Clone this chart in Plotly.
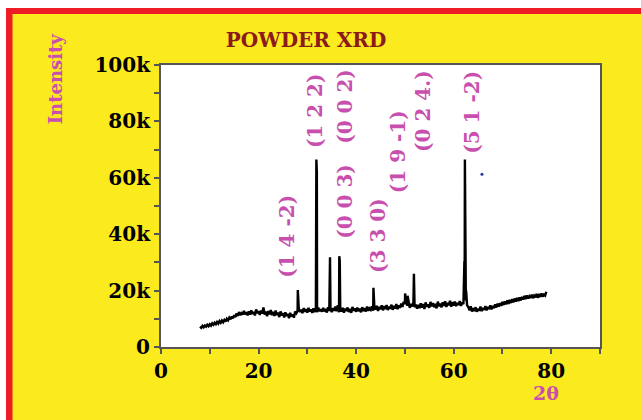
import plotly.graph_objects as go

# ---- data ----
# background pattern, sampled every 0.25 degree from 2θ = 8 to 79 (intensity in k counts)
base_start = 8.0
base_step = 0.25
base_k = [
    7.2, 6.8, 7.5, 7.0, 7.6, 7.2, 7.9, 7.4, 8.1, 7.6, 8.4, 7.9, 8.6, 8.1, 8.9, 8.3, 9.2, 8.6, 9.4, 8.8,
    9.6, 9.0, 10.0, 9.5, 10.4, 9.8, 10.8, 10.2, 11.3, 10.6, 11.9, 11.0, 12.4, 11.3, 12.0, 11.5, 12.8, 11.6, 12.3, 11.2,
    12.6, 11.5, 13.0, 11.8, 12.4, 11.2, 13.3, 12.0, 12.7, 11.4, 12.9, 11.9, 14.0, 11.5, 12.6, 10.9, 12.8, 11.6, 13.1, 11.3,
    12.5, 11.0, 12.9, 11.4, 12.2, 10.6, 12.6, 11.2, 12.0, 10.5, 12.3, 11.0, 11.8, 10.2, 12.1, 10.8, 11.6, 10.4, 12.6, 12.0,
    12.8, 13.6, 12.4, 13.2, 12.0, 13.8, 12.5, 13.4, 12.2, 13.9, 12.6, 13.3, 12.1, 13.7, 12.4, 13.5, 12.3, 14.0, 12.7, 13.4,
    12.5, 13.9, 12.6, 13.5, 12.2, 14.1, 12.8, 13.6, 12.4, 13.8, 12.9, 14.3, 12.7, 14.8, 12.3, 13.7, 12.6, 13.9, 12.2, 13.6,
    12.8, 14.0, 12.4, 13.5, 12.1, 14.2, 12.9, 13.7, 12.5, 14.0, 12.7, 13.6, 12.3, 14.1, 12.8, 13.8, 12.6, 14.3, 12.9, 13.7,
    13.2, 14.4, 12.9, 14.0, 13.3, 14.6, 12.8, 14.2, 13.4, 14.8, 13.0, 14.5, 13.5, 14.9, 13.1, 14.3, 13.6, 15.0, 13.2, 14.6,
    13.7, 15.2, 13.4, 14.8, 13.9, 15.4, 14.2, 16.0, 15.2, 16.5, 14.6, 15.8, 13.9, 15.3, 14.4, 15.9, 14.1, 15.0, 13.6, 14.9,
    13.8, 15.5, 14.0, 15.2, 13.5, 15.8, 14.3, 15.1, 13.9, 16.0, 14.4, 15.6, 14.1, 15.3, 13.7, 16.1, 14.5, 15.4, 14.0, 15.9,
    14.6, 16.2, 14.2, 15.7, 14.8, 16.4, 14.3, 15.9, 14.7, 16.1, 14.5, 15.6, 14.9, 16.3, 14.6, 15.8, 15.2, 17.0, 16.5, 14.8,
    14.2, 13.0, 14.4, 12.6, 13.8, 12.8, 14.1, 12.5, 13.6, 12.9, 14.3, 12.7, 13.9, 13.2, 14.5, 13.0, 14.2, 13.4, 14.8, 13.3,
    14.6, 13.8, 15.1, 14.0, 15.4, 14.3, 15.6, 14.6, 16.0, 14.9, 16.2, 15.1, 16.5, 15.3, 16.7, 15.6, 17.0, 15.8, 17.2, 16.1,
    17.4, 16.3, 17.6, 16.5, 17.8, 16.8, 18.1, 17.0, 18.3, 17.2, 18.0, 17.4, 18.6, 17.3, 18.2, 17.6, 18.8, 17.5, 18.4, 17.8,
    19.0, 17.9, 18.6, 18.2, 19.6,
]
# sharp reflections (2θ, intensity in k counts)
peak_x = [28.05, 31.85, 31.95, 34.65, 36.55, 36.65, 43.55, 50.05, 50.15, 50.55,
          51.85, 51.95, 62.2, 62.3, 62.35, 62.45, 62.55]
peak_k = [20.2, 66.5, 62.0, 31.8, 32.2, 30.5, 21.0, 19.0, 17.0, 18.2,
          26.0, 17.5, 30.5, 66.5, 31.0, 27.5, 20.0]

peak_labels = ["(1 4 -2)", "(1 2 2)", "(0 0 2)", "(0 0 3)", "(3 3 0)",
               "(1 9 -1)", "(0 2 4.)", "(5 1 -2)"]
label_x = [25.8, 31.6, 37.7, 37.7, 44.5, 48.6, 53.7, 63.7]
label_y = [39400, 83700, 85500, 51800, 39400, 69100, 83700, 83300]

dot_x = [65.8]
dot_y = [61300]

x_ticks = [0, 10, 20, 30, 40, 50, 60, 70, 80, 90]
x_ticktext = ["0", "", "20", "", "40", "", "60", "", "80", ""]
y_ticks = [0, 10000, 20000, 30000, 40000, 50000, 60000, 70000, 80000, 90000, 100000]
y_ticktext = ["0", "", "20k", "", "40k", "", "60k", "", "80k", "", "100k"]

# ---- build the pattern ----
pts = [(base_start + base_step * i, v) for i, v in enumerate(base_k)]
pts += list(zip(peak_x, peak_k))
pts.sort()
two_theta = [p[0] for p in pts]
intensity = [p[1] * 1000 for p in pts]

YELLOW = "#FBEA1E"
RED = "#EE1D25"
MAGENTA = "#C94FAE"
DARKRED = "#8B1A1A"
SERIF = "DejaVu Serif"

fig = go.Figure()
fig.add_trace(go.Scatter(x=two_theta, y=intensity, mode="lines",
                         line=dict(color="black", width=2.4), showlegend=False))
fig.add_trace(go.Scatter(x=dot_x, y=dot_y, mode="markers",
                         marker=dict(color="#2233AA", size=3), showlegend=False))

for t, lx, ly in zip(peak_labels, label_x, label_y):
    fig.add_annotation(x=lx, y=ly, xref="x", yref="y", text="<b>" + t + "</b>",
                       textangle=-90, showarrow=False,
                       xanchor="center", yanchor="middle",
                       font=dict(family=SERIF, size=20, color=MAGENTA))

fig.add_annotation(x=-0.241, y=0.95, xref="paper", yref="paper",
                   text="<b>Intensity</b>", textangle=-90, showarrow=False,
                   xanchor="center", yanchor="middle",
                   font=dict(family=SERIF, size=18, color=MAGENTA))
fig.add_annotation(x=78.9, y=-0.163, xref="x", yref="paper",
                   text="<b>2θ</b>", showarrow=False,
                   xanchor="center", yanchor="middle",
                   font=dict(family=SERIF, size=19, color=MAGENTA))

# frame: white outside, red border on top/left
def px_x(p):
    return (p - 161) / 439.0

def px_y(p):
    return (347 - p) / 282.0

shapes = [
    dict(type="rect", xref="paper", yref="paper", x0=px_x(-20), x1=px_x(700),
         y0=px_y(8), y1=px_y(-20), fillcolor="white", line=dict(width=0)),
    dict(type="rect", xref="paper", yref="paper", x0=px_x(-20), x1=px_x(6),
         y0=px_y(440), y1=px_y(-20), fillcolor="white", line=dict(width=0)),
    dict(type="rect", xref="paper", yref="paper", x0=px_x(6), x1=px_x(700),
         y0=px_y(14), y1=px_y(8), fillcolor=RED, line=dict(width=0)),
    dict(type="rect", xref="paper", yref="paper", x0=px_x(6), x1=px_x(12.5),
         y0=px_y(440), y1=px_y(8), fillcolor=RED, line=dict(width=0)),
]

fig.update_layout(
    width=641, height=420,
    margin=dict(l=161, r=41, t=65, b=73),
    paper_bgcolor=YELLOW, plot_bgcolor="white",
    shapes=shapes,
    title=dict(text="<b>POWDER XRD</b>", x=306 / 641, xref="container",
               xanchor="center", y=1 - 40 / 420, yref="container", yanchor="middle",
               font=dict(family=SERIF, size=20, color=DARKRED)),
    xaxis=dict(range=[0, 90], tickvals=x_ticks, ticktext=x_ticktext,
               ticks="outside", ticklen=5, tickwidth=2, tickcolor="#555",
               showline=True, linecolor="#555", linewidth=2, mirror=True,
               showgrid=False, zeroline=False,
               tickfont=dict(family=SERIF, size=20, color="black", weight="bold")),
    yaxis=dict(range=[0, 100000], tickvals=y_ticks, ticktext=y_ticktext,
               ticks="outside", ticklen=5, tickwidth=2, tickcolor="#555",
               showline=True, linecolor="#555", linewidth=2, mirror=True,
               showgrid=False, zeroline=False,
               tickfont=dict(family=SERIF, size=20, color="black", weight="bold")),
)

fig.write_html("out.html")
